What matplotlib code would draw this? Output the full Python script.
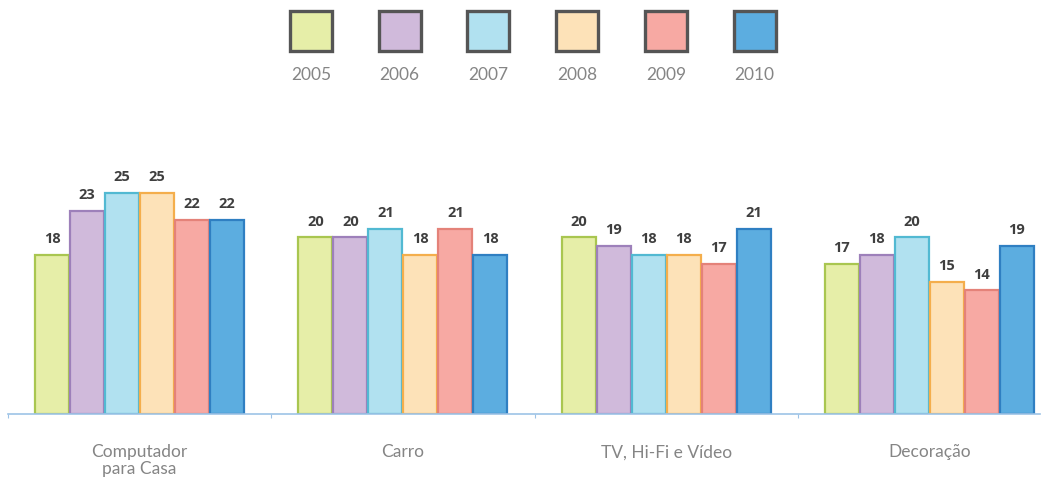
import matplotlib.pyplot as plt
from matplotlib.patches import Rectangle
import numpy as np

categories = ['Computador\npara Casa', 'Carro', 'TV, Hi-Fi e Vídeo', 'Decoração']
years = ['2005', '2006', '2007', '2008', '2009', '2010']
v2005 = [18, 20, 20, 17]
v2006 = [23, 20, 19, 18]
v2007 = [25, 21, 18, 20]
v2008 = [25, 18, 18, 15]
v2009 = [22, 21, 17, 14]
v2010 = [22, 18, 21, 19]
series = [v2005, v2006, v2007, v2008, v2009, v2010]

fills = ['#e6eea8', '#d0badb', '#b1e1f0', '#fde2b8', '#f7a9a3', '#5cade0']
edges = ['#a9c650', '#9d80ba', '#52b9d2', '#f4ae4c', '#e48279', '#2f7fc2']

fig = plt.figure(figsize=(10.49, 4.81), dpi=100)
ax = fig.add_axes([8/1049, 66/481, 1032/1049, 265/481])

x = np.arange(len(categories))
w = 0.133
for i in range(6):
    pos = x + (i - 2.5) * w
    ax.bar(pos, series[i], width=w*0.97, color=fills[i], edgecolor=edges[i], linewidth=1.6, zorder=2)
    for px, v in zip(pos, series[i]):
        ax.annotate(str(v), (px, v), xytext=(0, 7), textcoords='offset points',
                    ha='center', va='bottom', fontsize=10.5, fontweight='bold',
                    color='#3f3f3f', family='Open Sans')

ax.set_xlim(-0.5, 3.42)
ax.set_ylim(0, 30)
for s in ['top', 'right', 'left']:
    ax.spines[s].set_visible(False)
ax.spines['bottom'].set_color('#9dc3e6')
ax.spines['bottom'].set_linewidth(1.2)
ax.set_yticks([])
ax.set_xticks(np.arange(-0.5, 3.5, 1.0))
ax.tick_params(axis='x', length=3, color='#9dc3e6', labelbottom=False)
for xi, c in zip(x, categories):
    ax.text(xi, -3.3, c, ha='center', va='top', fontsize=12.5, color='#858585',
            family='Lato', linespacing=1.05)

# legend
lx0 = 290
for i, y in enumerate(years):
    left = lx0 + i * 88.7
    fig.patches.append(Rectangle((left/1049, 1 - 52/481), 42/1049, 40/481,
                                 transform=fig.transFigure, facecolor=fills[i],
                                 edgecolor='#555555', linewidth=2.4))
    fig.text((left + 21)/1049, 1 - 75/481, y, ha='center', va='center',
             fontsize=12.5, color='#858585', family='Lato')

fig.savefig('out.png', dpi=100)
